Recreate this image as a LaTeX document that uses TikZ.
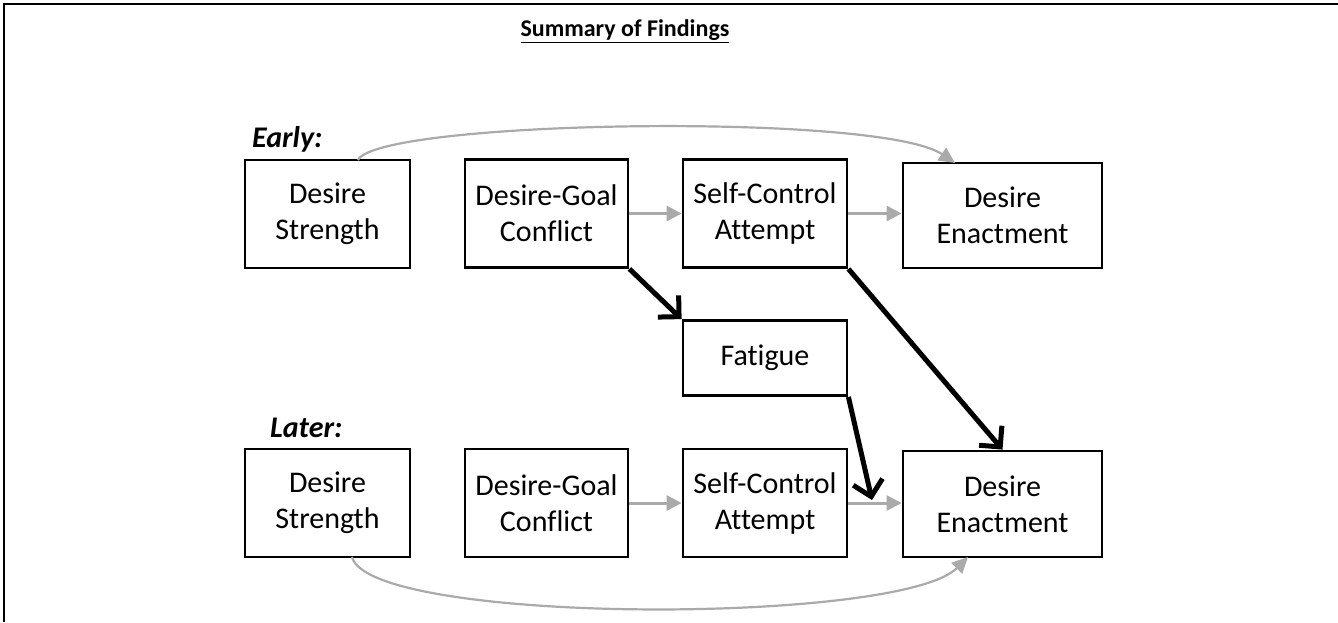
\documentclass[tikz,border=0pt]{standalone}
\usepackage{fontspec}
\setmainfont{Carlito}[Ligatures=NoCommon]
\usetikzlibrary{arrows.meta}
\begin{document}
\begin{tikzpicture}[x=1pt,y=-1pt,
  box/.style={draw=black, line width=2.8pt, fill=white, align=center, inner sep=0pt,
    font=\fontsize{30}{36}\selectfont},
  grayarrow/.style={draw={rgb,255:red,170;green,170;blue,170}, line width=3pt,
    -{Triangle[length=15pt,width=15pt]}},
  grayarc/.style={draw={rgb,255:red,170;green,170;blue,170}, line width=2.2pt,
    -{Triangle[length=16pt,width=15pt]}},
  blackarrow/.style={draw=black, line width=5pt,
    -{Straight Barb[length=15pt,width=30pt,line width=5pt]}},
  lab/.style={font=\fontsize{30}{34}\selectfont\bfseries\itshape, inner sep=0pt, anchor=west}
]
\useasboundingbox (0,0) rectangle (1338,622);
\fill[white] (0,0) rectangle (1338,622);
\coordinate (f0) at (4,622);
\coordinate (f1) at (4,4);
\coordinate (f2) at (1338,4);
\draw[line width=2.5pt] (f0) -- (f1) -- (f2);

\node[inner sep=0pt, font=\fontsize{24}{28}\selectfont\bfseries] (title) at (625,31) {\underline{Summary of Findings}};

\node[lab] (early) at (252,139) {Early:};
\node[lab] (later) at (270,428) {Later:};

% top row
\node[box, minimum width=165pt, minimum height=108pt] (ds1) at (327.5,214) {Desire\\Strength};
\node[box, minimum width=163pt, minimum height=108pt] (dg1) at (546.5,213.5) {Desire-Goal\\Conflict};
\node[box, minimum width=164pt, minimum height=108pt] (sc1) at (765,213.5) {Self-Control\\Attempt};
\node[box, minimum width=199pt, minimum height=105pt] (de1) at (1002.5,215.5) {Desire\\Enactment};
% fatigue
\node[box, minimum width=164pt, minimum height=75pt] (fa) at (765,358) {Fatigue};
% bottom row
\node[box, minimum width=165pt, minimum height=108pt] (ds2) at (327.5,503) {Desire\\Strength};
\node[box, minimum width=163pt, minimum height=108pt] (dg2) at (546.5,503) {Desire-Goal\\Conflict};
\node[box, minimum width=164pt, minimum height=108pt] (sc2) at (765,503) {Self-Control\\Attempt};
\node[box, minimum width=199pt, minimum height=106pt] (de2) at (1002.5,504) {Desire\\Enactment};

% gray arrows
\draw[grayarrow] (dg1.east) -- (sc1.west);
\draw[grayarrow] (sc1.east) -- (sc1.east -| de1.west);
\draw[grayarrow] (dg2.east) -- (sc2.west);
\draw[grayarrow] (sc2.east) -- (sc2.east -| de2.west);

% arcs
\coordinate (a1s) at (358,160);
\coordinate (a1e) at (955,163);
\draw[grayarc] (a1s) .. controls (378,120) and (880,112) .. (a1e);
\coordinate (a2s) at (352,557);
\coordinate (a2e) at (968,557);
\draw[grayarc] (a2s) .. controls (370,625) and (900,625) .. (a2e);

% black arrows
\coordinate (mod) at (872,500);
\draw[blackarrow] (dg1.south east) -- (fa.north west);
\draw[blackarrow] (sc1.south east) -- (de2.north);
\draw[blackarrow] (fa.south east) -- (mod);
\end{tikzpicture}
\end{document}
